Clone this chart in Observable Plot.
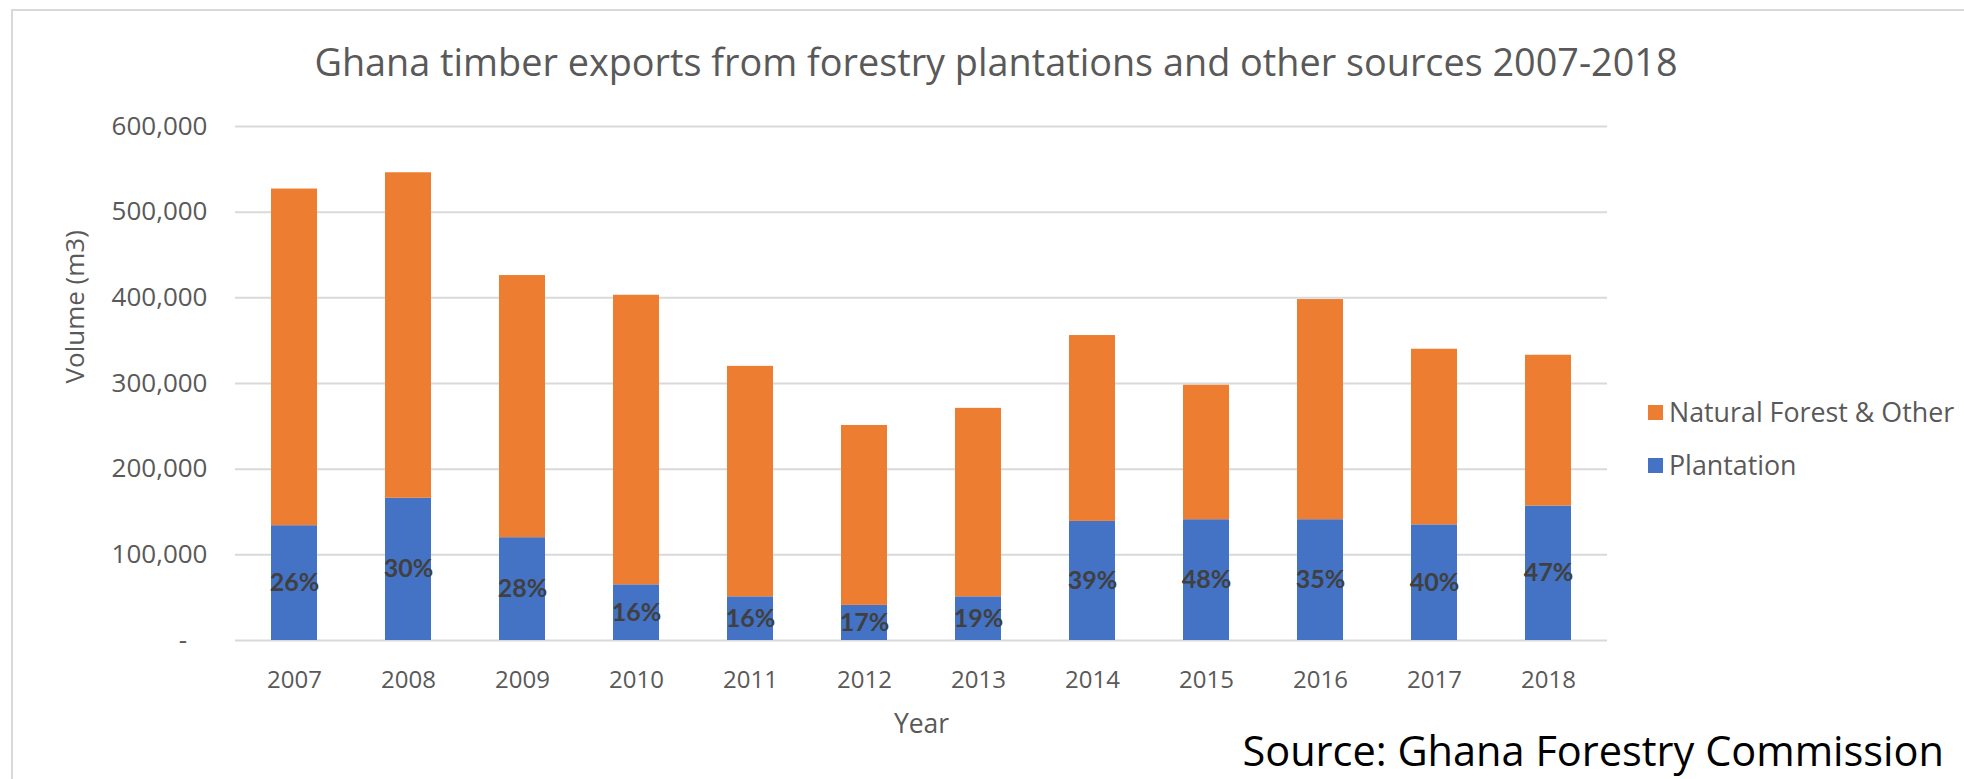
<!DOCTYPE html>
<html><head><meta charset="utf-8">
<script src="https://cdn.jsdelivr.net/npm/d3@7"></script>
<script src="https://cdn.jsdelivr.net/npm/@observablehq/plot@0.6"></script>
<style>
html,body{margin:0;padding:0;overflow:hidden;background:#fff;width:1964px;height:779px;}
#wrap{position:relative;width:1964px;height:779px;}
#frame{position:absolute;left:11px;top:9px;width:2100px;height:900px;border:2px solid #d9d9d9;box-sizing:border-box;pointer-events:none;z-index:3;}
#chart{position:absolute;left:0;top:0;}
#title{position:absolute;left:0;width:1992px;top:40px;line-height:44px;text-align:center;font-family:"Open Sans",sans-serif;font-size:37.8px;color:#595959;z-index:2;}
.leg{position:absolute;left:1648px;display:flex;align-items:center;font-family:"Open Sans",sans-serif;font-size:26.8px;color:#595959;z-index:2;line-height:30px;}
.sw{width:15px;height:15px;margin-right:6px;}
#source{position:absolute;right:20px;top:723px;line-height:54px;font-family:"Open Sans",sans-serif;font-size:41.5px;color:#000;z-index:2;}
</style>
</head><body>
<div id="wrap">
  <div id="frame"></div>
  <div id="title"></div>
  <div id="legend"></div>
  <div id="source"></div>
  <div id="chart"></div>
</div>
<script>
const years = ["2007","2008","2009","2010","2011","2012","2013","2014","2015","2016","2017","2018"];
const plantation = [134000,166000,120000,65000,51000,41000,51000,139000,141000,141000,135000,157000];
const naturalOther = [393000,380000,306000,338000,269000,210000,220000,217000,157000,257000,205000,176000];
const shareLabels = ["26%","30%","28%","16%","16%","17%","19%","39%","48%","35%","40%","47%"];
const seriesNames = ["Plantation","Natural Forest & Other"];
const seriesColors = ["#4472C4","#ED7D31"];
const yTicks = [0,100000,200000,300000,400000,500000,600000];
const titleText = "Ghana timber exports from forestry plantations and other sources 2007-2018";
const yAxisTitle = "Volume (m3)";
const xAxisTitle = "Year";
const sourceText = "Source: Ghana Forestry Commission";

document.getElementById("title").textContent = titleText;
document.getElementById("source").textContent = sourceText;

// legend (Natural first, then Plantation, as in reference)
const legend = document.getElementById("legend");
const legendOrder = [1, 0];
const legendTops = [397, 450];
legendOrder.forEach((si, i) => {
  const row = document.createElement("div");
  row.className = "leg";
  row.style.top = legendTops[i] + "px";
  const sw = document.createElement("div");
  sw.className = "sw";
  sw.style.background = seriesColors[si];
  const tx = document.createElement("span");
  tx.textContent = seriesNames[si];
  row.appendChild(sw); row.appendChild(tx);
  legend.appendChild(row);
});

const rows = [];
years.forEach((y, i) => {
  rows.push({year: y, series: seriesNames[0], value: plantation[i]});
  rows.push({year: y, series: seriesNames[1], value: naturalOther[i]});
});
const labelRows = years.map((y, i) => ({year: y, mid: plantation[i] / 2, label: shareLabels[i]}));

const fmt = d3.format(",");
const plot = Plot.plot({
  width: 1964,
  height: 779,
  marginLeft: 235,
  marginRight: 357,
  marginTop: 126,
  marginBottom: 139,
  style: {background: "transparent", fontFamily: "'Open Sans', sans-serif", fontSize: "24px", color: "#595959"},
  x: {domain: years, paddingInner: 0.6, paddingOuter: 0.3, label: null},
  y: {domain: [0, 600000], label: null},
  color: {domain: seriesNames, range: seriesColors},
  marks: [
    Plot.gridY(yTicks, {stroke: "#d9d9d9", strokeOpacity: 1, strokeWidth: 2}),
    Plot.barY(rows, Plot.stackY({x: "year", y: "value", fill: "series", order: seriesNames})),
    Plot.text(labelRows, {x: "year", y: "mid", text: "label", fill: "#404040", fontWeight: "bold", fontSize: 25, fontFamily: "Lato, sans-serif"}),
    Plot.axisY(yTicks, {tickSize: 0, tickPadding: 28, fill: "#595959", fontSize: 26,
      tickFormat: d => d === 0 ? "-\u00a0\u00a0\u00a0" : fmt(d), label: null}),
    Plot.axisX({tickSize: 0, tickPadding: 30, fill: "#595959", fontSize: 24, label: null}),
    Plot.text([yAxisTitle], {frameAnchor: "left", dx: -160, rotate: -90, fill: "#595959", fontSize: 26}),
    Plot.text([xAxisTitle], {frameAnchor: "bottom", dy: 92, fill: "#595959", fontSize: 26.5})
  ]
});
document.getElementById("chart").appendChild(plot);
</script>
</body></html>
